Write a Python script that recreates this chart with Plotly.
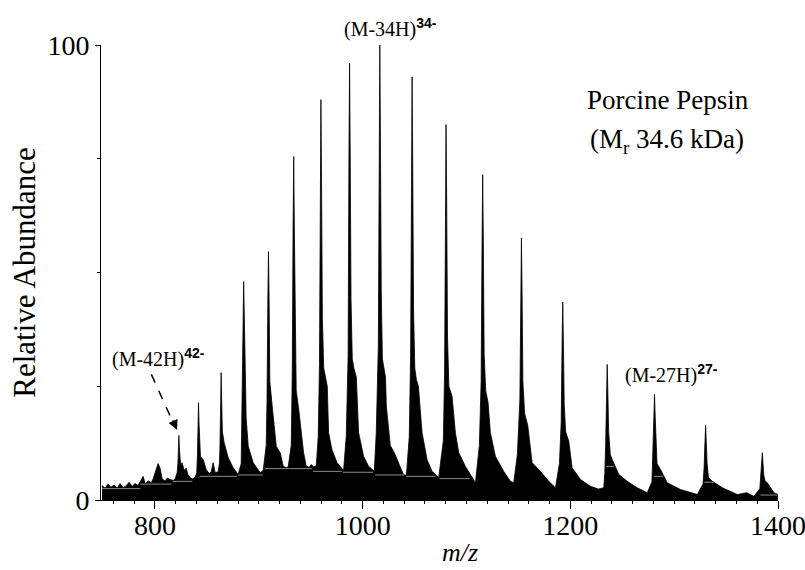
import plotly.graph_objects as go

# ---- spectrum outline (m/z, relative abundance) ----
# low-mass noise region
noise_mz = [749.0, 751.9, 754.8, 757.7, 760.6, 763.5, 766.4, 769.3, 772.2, 775.1, 778.0, 780.8,
            783.7, 786.6, 788.6, 790.5, 793.4, 796.3, 798.2, 800.1, 803.0, 804.9, 806.9, 809.8,
            811.7, 814.6, 817.5, 819.4]
noise_int = [3.2, 2.6, 3.5, 2.8, 3.3, 2.6, 3.6, 2.7, 3.1, 3.9, 3.0, 3.6,
             3.2, 4.6, 5.2, 3.6, 4.2, 3.8, 4.6, 6.0, 8.0, 7.0, 4.6, 4.2,
             4.8, 4.5, 4.3, 4.6]

# charge-state envelope, (M-42H)42- ... (M-25H)25-, each with its tail
peak_mz = [
    [821.3, 822.1, 822.6, 823.0, 823.5, 824.1, 824.7, 826.1, 828.1, 830.0, 831.9, 833.9, 835.8, 838.7],
    [840.2, 840.9, 841.4, 841.9, 842.4, 843.0, 843.8, 846.4, 849.3, 852.2, 854.1, 856.0, 858.0, 860.8],
    [862.0, 862.6, 863.2, 863.7, 864.2, 864.9, 866.6, 870.5, 875.3, 880.1, 883.0],
    [884.0, 884.8, 885.4, 886.0, 886.8, 887.8, 889.8, 894.6, 901.3, 904.2, 907.1],
    [907.9, 908.7, 909.3, 909.9, 910.6, 912.9, 916.8, 920.6, 923.5, 926.4, 928.3, 931.2],
    [932.2, 933.0, 933.6, 934.2, 935.0, 936.0, 938.4, 941.5, 943.1, 945.7, 948.6, 950.5, 952.4, 955.3, 957.2],
    [958.4, 959.2, 959.8, 960.4, 961.2, 962.5, 964.0, 965.9, 967.2, 970.4, 975.3, 978.4, 981.6, 984.2],
    [986.0, 986.8, 987.4, 988.0, 988.8, 990.0, 991.5, 993.9, 996.1, 1000.9, 1005.7, 1011.2, 1013.1],
    [1015.1, 1015.9, 1016.5, 1017.1, 1017.9, 1019.0, 1020.4, 1022.0, 1022.8, 1026.6, 1030.5, 1034.3, 1039.2, 1042.1, 1044.9],
    [1046.2, 1047.0, 1047.6, 1048.2, 1049.0, 1050.2, 1051.7, 1053.7, 1057.2, 1062.0, 1066.8, 1073.2, 1077.7],
    [1078.9, 1079.7, 1080.3, 1080.9, 1081.7, 1083.0, 1086.1, 1089.3, 1092.5, 1098.9, 1105.4, 1108.6, 1112.4],
    [1114.1, 1115.0, 1115.6, 1116.2, 1117.0, 1118.5, 1120.8, 1123.0, 1127.8, 1135.8, 1142.3, 1145.5, 1149.0],
    [1151.4, 1152.3, 1152.9, 1153.5, 1154.3, 1156.0, 1159.0, 1163.2, 1171.2, 1179.2, 1185.7, 1189.5],
    [1191.2, 1192.1, 1192.7, 1193.3, 1194.1, 1195.5, 1198.5, 1201.7, 1209.8, 1219.4, 1227.1, 1232.2, 1233.2],
    [1234.0, 1234.9, 1235.5, 1236.1, 1236.9, 1238.5, 1240.3, 1246.7, 1254.8, 1264.4, 1274.1, 1278.6],
    [1279.6, 1280.5, 1281.1, 1281.7, 1282.5, 1283.5, 1286.9, 1293.3, 1306.2, 1322.3, 1327.8],
    [1328.8, 1329.7, 1330.3, 1330.9, 1331.7, 1333.0, 1336.7, 1346.4, 1360.8, 1369.8, 1376.8, 1382.5],
    [1383.4, 1384.3, 1384.9, 1385.5, 1386.3, 1387.5, 1389.7, 1396.1, 1400.0],
]
peak_int = [
    [6.0, 8.0, 11.5, 14.2, 11.5, 8.5, 7.5, 8.2, 6.5, 7.0, 5.5, 4.9, 4.6, 5.0],
    [6.0, 10.0, 17.0, 21.4, 17.0, 11.0, 9.5, 8.9, 6.7, 5.8, 6.2, 8.2, 6.0, 6.2],
    [8.0, 12.0, 22.0, 28.0, 22.0, 15.0, 12.6, 9.3, 7.1, 5.6, 8.0],
    [20.0, 38.0, 48.0, 38.0, 24.0, 18.0, 11.8, 8.2, 6.0, 6.5, 12.0],
    [22.0, 44.0, 54.6, 44.0, 26.0, 20.6, 11.8, 10.4, 7.4, 7.1, 7.3, 12.0],
    [28.0, 60.0, 75.5, 60.0, 34.0, 24.0, 20.0, 13.3, 10.4, 7.4, 7.2, 7.8, 7.3, 7.5, 14.0],
    [30.0, 70.0, 88.0, 70.0, 40.0, 29.0, 27.0, 25.0, 14.8, 11.1, 8.2, 7.4, 6.5, 14.0],
    [32.0, 76.0, 96.0, 76.0, 44.0, 31.0, 29.0, 27.0, 14.8, 9.6, 7.4, 6.3, 14.8],
    [34.0, 80.0, 100.0, 80.0, 46.0, 31.0, 28.7, 27.0, 20.6, 12.0, 10.4, 8.2, 5.6, 5.4, 14.0],
    [32.0, 74.0, 93.0, 74.0, 42.0, 29.0, 26.5, 25.0, 14.8, 8.9, 6.3, 4.9, 13.0],
    [28.0, 66.0, 82.5, 66.0, 36.0, 25.0, 22.8, 14.8, 10.4, 7.4, 4.9, 3.8, 12.0],
    [26.0, 57.0, 71.5, 57.0, 32.0, 24.0, 21.4, 14.8, 9.6, 6.3, 4.1, 3.8, 10.0],
    [22.0, 46.0, 57.6, 46.0, 26.0, 19.0, 16.4, 8.2, 6.3, 4.1, 2.7, 8.0],
    [17.0, 35.0, 43.5, 35.0, 21.0, 15.0, 12.9, 7.1, 4.5, 3.0, 2.4, 2.7, 6.0],
    [12.0, 24.0, 29.8, 24.0, 15.0, 10.0, 8.9, 5.6, 4.1, 2.7, 1.6, 4.0],
    [10.0, 18.5, 23.2, 18.5, 11.0, 8.0, 6.7, 3.8, 2.3, 1.2, 3.5],
    [7.0, 13.0, 16.4, 13.0, 8.0, 5.0, 4.1, 2.7, 1.2, 1.6, 0.8, 2.5],
    [5.0, 8.3, 10.4, 8.3, 5.5, 4.2, 3.8, 1.6, 1.2],
]

# faint grey scan-baseline segments seen inside the black fill
grey_start = [749, 786, 817, 843, 880, 906, 952, 981, 1012, 1042, 1074, 1234.5, 1280.5, 1329, 1383]
grey_end   = [786, 816, 836, 879, 904, 951, 980, 1010, 1040, 1070, 1103, 1242, 1289, 1338, 1399]
grey_level = [2.5, 3.5, 4.1, 5.2, 5.5, 6.9, 6.3, 6.1, 5.5, 5.2, 4.7, 7.4, 5.2, 3.9, 1.1]

x_ticks = [800, 1000, 1200, 1400]
y_ticks = [0, 100]
y_labels = ["0", "100"]

SERIF = "Liberation Serif, Times New Roman, serif"

spec_mz = list(noise_mz)
spec_int = list(noise_int)
for xs, ys in zip(peak_mz, peak_int):
    spec_mz += xs
    spec_int += ys

fig = go.Figure()
fig.add_trace(go.Scatter(
    x=spec_mz, y=spec_int, mode="lines", fill="tozeroy",
    fillcolor="black", line=dict(color="black", width=0.8),
    hoverinfo="skip", showlegend=False,
))

gx, gy = [], []
for s, e, lv in zip(grey_start, grey_end, grey_level):
    gx += [s, e, None]
    gy += [lv, lv, None]
fig.add_trace(go.Scatter(
    x=gx, y=gy, mode="lines", line=dict(color="#8c8c8c", width=1),
    hoverinfo="skip", showlegend=False,
))

sup = "<span style='font-family:Liberation Sans, Arial, sans-serif'><b>{}</b></span>"

fig.add_annotation(x=0.427, y=1.037, xref="paper", yref="paper",
                   text="(M-34H)<sup>" + sup.format("34-") + "</sup>",
                   showarrow=False, xanchor="center", yanchor="middle",
                   font=dict(family=SERIF, size=20, color="black"))
fig.add_annotation(x=803, y=31.2, text="(M-42H)<sup>" + sup.format("42-") + "</sup>",
                   showarrow=False, xanchor="center", yanchor="middle",
                   font=dict(family=SERIF, size=20, color="black"))
fig.add_annotation(x=1297, y=27.8, text="(M-27H)<sup>" + sup.format("27-") + "</sup>",
                   showarrow=False, xanchor="center", yanchor="middle",
                   font=dict(family=SERIF, size=20, color="black"))
fig.add_annotation(x=1294, y=88, text="Porcine Pepsin",
                   showarrow=False, xanchor="center", yanchor="middle",
                   font=dict(family=SERIF, size=27, color="black"))
fig.add_annotation(x=1293, y=79, text="(M<sub>r</sub> 34.6 kDa)",
                   showarrow=False, xanchor="center", yanchor="middle",
                   font=dict(family=SERIF, size=27, color="black"))

# dashed leader to the 42- peak with a filled arrowhead
fig.add_shape(type="line", x0=796.5, y0=27.6, x1=817.5, y1=17.0,
              line=dict(color="black", width=1.5, dash="dash"))
fig.add_annotation(x=821.3, y=15.4, ax=-5, ay=-11, text="", showarrow=True,
                   arrowhead=2, arrowsize=1.3, arrowwidth=1.5, arrowcolor="black")

# x axis title placed as in the reference (not centred)
fig.add_annotation(x=0.53, y=-0.115, xref="paper", yref="paper",
                   text="<i>m/z</i>", showarrow=False, xanchor="center", yanchor="middle",
                   font=dict(family=SERIF, size=26, color="black"))

fig.update_layout(
    width=805, height=570,
    margin=dict(l=101, r=27, t=45, b=70, autoexpand=False),
    paper_bgcolor="white", plot_bgcolor="white",
    font=dict(family=SERIF, color="black"),
    showlegend=False,
    xaxis=dict(
        range=[748, 1400], tickvals=x_ticks, ticks="outside", ticklen=8, tickwidth=1,
        tickcolor="black", showline=True, linecolor="black", linewidth=1,
        showgrid=False, zeroline=False, tickfont=dict(family=SERIF, size=28, color="black"),
        minor=dict(ticks="outside", ticklen=3, dtick=20, tick0=800, tickcolor="black", showgrid=False),
        ticklabelstandoff=-8, ticklabeloverflow="allow", automargin=False,
    ),
    yaxis=dict(
        range=[0, 100], tickvals=y_ticks, ticktext=y_labels, ticks="outside", ticklen=5,
        tickwidth=1, tickcolor="black", showline=True, linecolor="black", linewidth=1,
        showgrid=False, zeroline=False, tickfont=dict(family=SERIF, size=28, color="black"),
        minor=dict(ticks="outside", ticklen=3, dtick=25, tick0=0, tickcolor="black", showgrid=False),
        title=dict(text="Relative Abundance", font=dict(family=SERIF, size=31, color="black"), standoff=2),
        automargin=False,
    ),
)

fig.write_html("out.html")
